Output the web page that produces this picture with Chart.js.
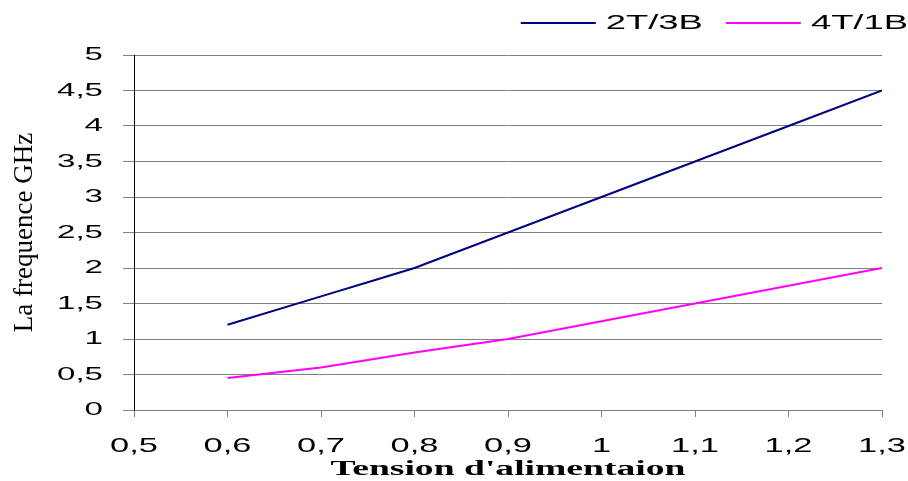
<!DOCTYPE html>
<html><head><meta charset="utf-8">
<script src="https://cdn.jsdelivr.net/npm/chart.js@4"></script>
<style>html,body{margin:0;padding:0;background:#fff}#wrap{width:908px;height:481px}</style>
</head><body><div id="wrap"><canvas id="c" width="908" height="481"></canvas></div>
<script>
const tension = [0.6, 0.7, 0.75, 0.8, 0.9, 1.0, 1.1, 1.2, 1.3];
const freq2T3B = [1.2, 1.6, 1.8, 2.0, 2.5, 3.0, 3.5, 4.0, 4.5];
const tension4T = [0.6, 0.7, 0.8, 0.9, 1.0, 1.1, 1.2, 1.3];
const freq4T1B = [0.45, 0.6, 0.81, 1.0, 1.25, 1.5, 1.75, 2.0];
const seriesNames = ['2T/3B', '4T/1B'];
const xTitle = "Tension d'alimentaion";
const yTitle = 'La frequence GHz';

const fmt = v => String(Math.round(v * 10) / 10).replace('.', ',');

// The reference renders its horizontal texts widened; emulate that with a horizontal text scale per font.
const canvas = document.getElementById('c');
const ctx = canvas.getContext('2d');
const P = CanvasRenderingContext2D.prototype;
function stretchFor(font) {
  if (/bold|700/.test(font)) return 1.88;      // x title
  const m = font.match(/(\d+(?:\.\d+)?)px/);
  const s = m ? Math.round(parseFloat(m[1])) : 0;
  if (s === 21) return 1.64;                   // x tick labels
  if (s === 19) return 1.74;                   // y tick labels
  if (s === 20) return 1.82;                   // legend
  return 1;
}
ctx.fillText = function (t, x, y, mw) {
  const s = stretchFor(this.font);
  if (s === 1) return mw === undefined ? P.fillText.call(this, t, x, y) : P.fillText.call(this, t, x, y, mw);
  this.save(); this.translate(x, y); this.scale(s, 1);
  P.fillText.call(this, t, 0, 0);
  this.restore();
};
ctx.measureText = function (t) {
  const m = P.measureText.call(this, t);
  const s = stretchFor(this.font);
  if (s === 1) return m;
  return { width: m.width * s, actualBoundingBoxAscent: m.actualBoundingBoxAscent,
    actualBoundingBoxDescent: m.actualBoundingBoxDescent,
    actualBoundingBoxLeft: m.actualBoundingBoxLeft * s, actualBoundingBoxRight: m.actualBoundingBoxRight * s };
};

const legendShift = {
  id: 'legendShift',
  afterLayout(chart) { if (chart.legend) { chart.legend.right += 23; chart.legend.top -= 12; } }
};

new Chart(ctx, {
  type: 'line',
  data: {
    datasets: [
      { label: seriesNames[0], data: tension.map((x, i) => ({x, y: freq2T3B[i]})),
        borderColor: '#000080', backgroundColor: '#000080', borderWidth: 2, pointRadius: 0, tension: 0 },
      { label: seriesNames[1], data: tension4T.map((x, i) => ({x, y: freq4T1B[i]})),
        borderColor: '#ff00ff', backgroundColor: '#ff00ff', borderWidth: 2, pointRadius: 0, tension: 0 }
    ]
  },
  plugins: [legendShift],
  options: {
    responsive: false, animation: false,
    layout: { padding: { left: 0, right: 0, top: 2, bottom: 0 } },
    plugins: {
      legend: { position: 'top', align: 'end',
        labels: { usePointStyle: true, pointStyle: 'line', pointStyleWidth: 75, boxHeight: 20, color: '#000',
          font: { family: 'Liberation Sans, Arial', size: 20 }, padding: 23 } },
      tooltip: { enabled: false }
    },
    scales: {
      x: { type: 'linear', min: 0.5, max: 1.3,
        afterFit: s => { s.height = 71; s.paddingRight = 26; s.paddingLeft = 0; },
        ticks: { stepSize: 0.1, callback: fmt, color: '#000', maxRotation: 0, autoSkip: false,
          font: { family: 'Liberation Sans, Arial', size: 21 }, padding: 17 },
        grid: { drawOnChartArea: false, drawTicks: true, tickLength: 7, color: '#808080' },
        border: { color: '#808080', width: 1 },
        title: { display: true, text: xTitle, color: '#000', padding: { top: 0, bottom: -1 },
          font: { family: 'Liberation Serif, Times New Roman', size: 20, weight: 'bold' } }
      },
      y: { min: 0, max: 5,
        afterFit: s => { s.width = 134; },
        ticks: { stepSize: 0.5, callback: fmt, color: '#000',
          font: { family: 'Liberation Sans, Arial', size: 19 }, padding: 20 },
        grid: { color: '#808080', tickLength: 11, drawTicks: true },
        border: { color: '#000', width: 1 },
        title: { display: true, text: yTitle, color: '#000', padding: { top: 9, bottom: 0 },
          font: { family: 'Liberation Serif, Times New Roman', size: 27 } }
      }
    }
  }
});
</script></body></html>
